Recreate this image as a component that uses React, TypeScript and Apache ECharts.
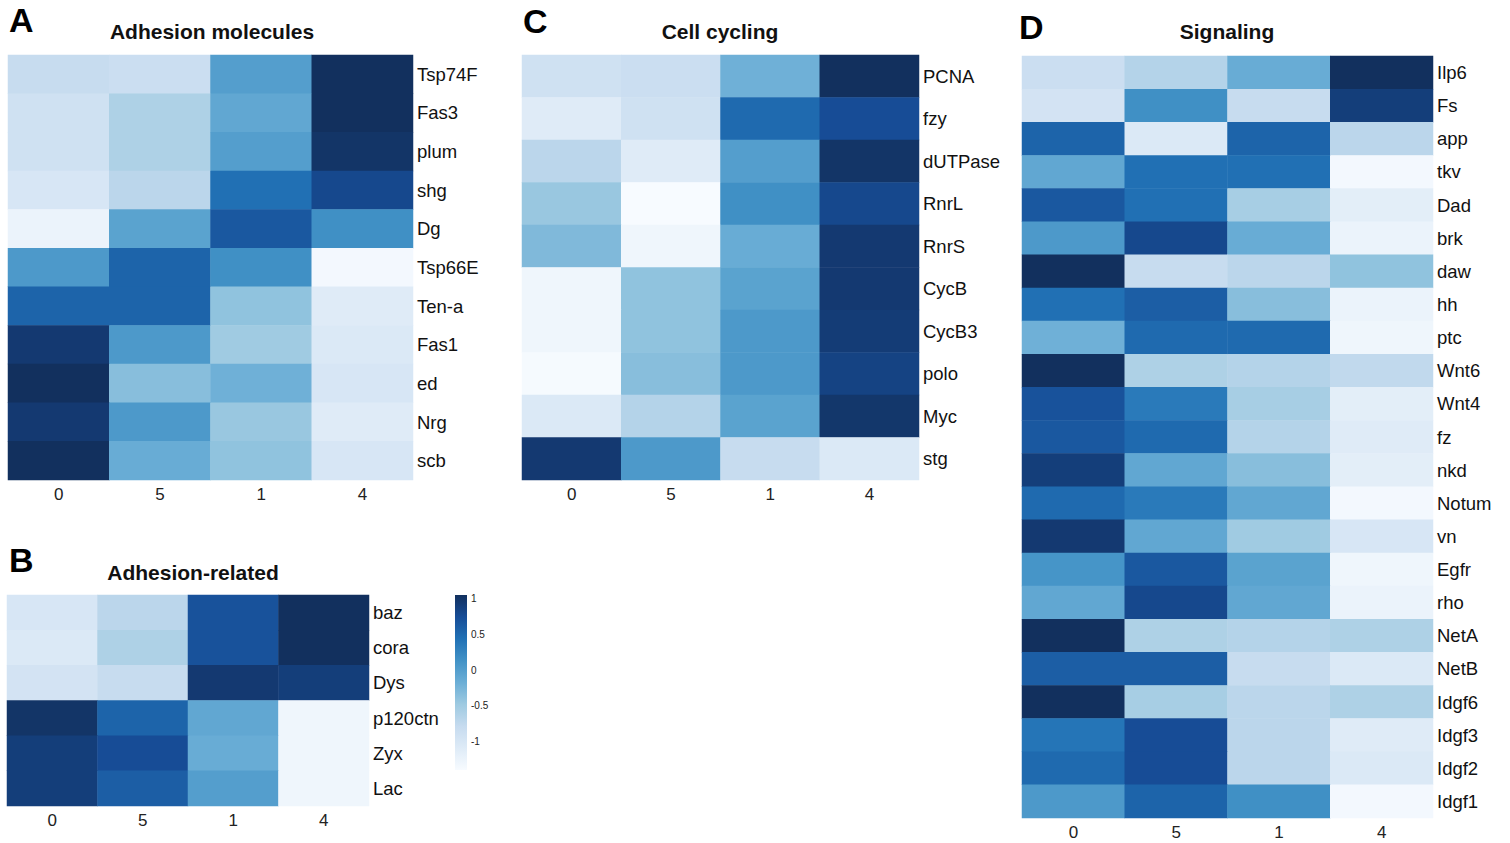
import React, { useEffect, useRef } from "react";
import * as echarts from "echarts";

// ---------- data ----------
const clusters = ["0", "5", "1", "4"];

const genesA = ["Tsp74F", "Fas3", "plum", "shg", "Dg", "Tsp66E", "Ten-a", "Fas1", "ed", "Nrg", "scb"];
const valuesA = [
  [-0.8, -0.85, 0.0, 1.05],
  [-0.9, -0.6, -0.1, 1.05],
  [-0.9, -0.6, 0.0, 1.0],
  [-1.0, -0.7, 0.45, 0.8],
  [-1.25, -0.05, 0.65, 0.15],
  [0.05, 0.55, 0.15, -1.35],
  [0.55, 0.55, -0.4, -1.1],
  [0.95, 0.05, -0.5, -1.05],
  [1.05, -0.35, -0.2, -1.0],
  [0.95, 0.05, -0.45, -1.1],
  [1.05, -0.15, -0.4, -1.0],
];

const genesB = ["baz", "cora", "Dys", "p120ctn", "Zyx", "Lac"];
const valuesB = [
  [-1.0, -0.7, 0.7, 1.05],
  [-1.05, -0.6, 0.7, 1.05],
  [-0.95, -0.8, 0.95, 0.9],
  [1.0, 0.55, -0.1, -1.3],
  [0.9, 0.75, -0.15, -1.3],
  [0.9, 0.6, 0.0, -1.3],
];

const genesC = ["PCNA", "fzy", "dUTPase", "RnrL", "RnrS", "CycB", "CycB3", "polo", "Myc", "stg"];
const valuesC = [
  [-0.9, -0.85, -0.2, 1.05],
  [-1.1, -0.9, 0.5, 0.75],
  [-0.7, -1.1, 0.0, 1.0],
  [-0.45, -1.4, 0.15, 0.8],
  [-0.3, -1.3, -0.15, 0.95],
  [-1.3, -0.4, -0.05, 0.95],
  [-1.3, -0.4, 0.05, 0.92],
  [-1.38, -0.35, 0.05, 0.85],
  [-1.05, -0.65, -0.05, 0.98],
  [0.95, 0.05, -0.8, -1.05],
];

const genesD = [
  "Ilp6", "Fs", "app", "tkv", "Dad", "brk", "daw", "hh", "ptc", "Wnt6", "Wnt4", "fz",
  "nkd", "Notum", "vn", "Egfr", "rho", "NetA", "NetB", "Idgf6", "Idgf3", "Idgf2", "Idgf1",
];
const valuesD = [
  [-0.85, -0.65, -0.15, 1.05],
  [-0.95, 0.15, -0.8, 0.9],
  [0.55, -1.05, 0.55, -0.7],
  [-0.1, 0.45, 0.45, -1.35],
  [0.65, 0.45, -0.55, -1.15],
  [0.05, 0.8, -0.15, -1.25],
  [1.05, -0.8, -0.7, -0.4],
  [0.45, 0.6, -0.35, -1.25],
  [-0.2, 0.5, 0.5, -1.3],
  [1.05, -0.6, -0.65, -0.75],
  [0.7, 0.35, -0.55, -1.15],
  [0.65, 0.5, -0.65, -1.1],
  [0.9, -0.1, -0.35, -1.15],
  [0.5, 0.35, -0.1, -1.35],
  [0.95, -0.1, -0.5, -1.0],
  [0.1, 0.65, -0.05, -1.3],
  [-0.1, 0.8, -0.1, -1.25],
  [1.05, -0.6, -0.65, -0.6],
  [0.6, 0.6, -0.8, -1.05],
  [1.05, -0.55, -0.7, -0.6],
  [0.4, 0.75, -0.7, -1.1],
  [0.5, 0.75, -0.7, -1.05],
  [0.05, 0.55, 0.15, -1.35],
];

const panelLetters = ["A", "B", "C", "D"];
const panelTitles = ["Adhesion molecules", "Adhesion-related", "Cell cycling", "Signaling"];
const legendTicks = [1, 0.5, 0, -0.5, -1];
const scaleMin = -1.4;
const scaleMax = 1.05;
const blues = ["#f7fbff", "#deebf7", "#c6dbef", "#9ecae1", "#6baed6", "#4292c6", "#2171b5", "#174d97", "#12305e"];

// ---------- layout ----------
const FONT = "'Liberation Sans', Arial, Helvetica, sans-serif";
const grids = [
  { left: 8, top: 55, width: 405, height: 425 },
  { left: 7, top: 595, width: 362, height: 211 },
  { left: 522, top: 55, width: 397, height: 425 },
  { left: 1022, top: 56, width: 411, height: 762 },
];
const titlePos = [
  { x: 212, y: 31 },
  { x: 193, y: 572 },
  { x: 720, y: 31 },
  { x: 1227, y: 31 },
];
const letterPos = [
  { x: 9, y: 20 },
  { x: 9, y: 560 },
  { x: 523, y: 21 },
  { x: 1019, y: 27 },
];
const bar = { x: 455, y: 595, w: 12, h: 175 };

const toData = (vals: number[][]) => vals.flatMap((row, r) => row.map((v, c) => [c, r, v]));

export default function App() {
  const ref = useRef<HTMLDivElement>(null);

  useEffect(() => {
    if (!ref.current) return;
    const chart = echarts.init(ref.current, undefined, { renderer: "svg" });
    const geneSets = [genesA, genesB, genesC, genesD];
    const valueSets = [valuesA, valuesB, valuesC, valuesD];

    const graphic: any[] = [];
    panelLetters.forEach((l, i) => {
      graphic.push({
        type: "text",
        x: letterPos[i].x,
        y: letterPos[i].y,
        style: { text: l, font: `bold 34px ${FONT}`, fill: "#000", textVerticalAlign: "middle", verticalAlign: "middle" },
      });
      graphic.push({
        type: "text",
        x: titlePos[i].x,
        y: titlePos[i].y,
        style: {
          text: panelTitles[i],
          font: `bold 21px ${FONT}`,
          fill: "#111",
          textAlign: "center",
          textVerticalAlign: "middle",
          verticalAlign: "middle",
        },
      });
    });
    graphic.push({
      type: "rect",
      shape: { x: bar.x, y: bar.y, width: bar.w, height: bar.h },
      style: {
        fill: {
          type: "linear",
          x: 0,
          y: 0,
          x2: 0,
          y2: 1,
          colorStops: blues
            .slice()
            .reverse()
            .map((c, i) => ({ offset: i / (blues.length - 1), color: c })),
        },
      },
    });
    legendTicks.forEach((t) => {
      graphic.push({
        type: "text",
        x: bar.x + bar.w + 4,
        y: bar.y + ((scaleMax - t) / (scaleMax - scaleMin)) * bar.h,
        style: { text: String(t), font: `10px ${FONT}`, fill: "#222", textVerticalAlign: "middle", verticalAlign: "middle" },
      });
    });

    chart.setOption({
      animation: false,
      backgroundColor: "#fff",
      grid: grids.map((g) => ({ ...g, containLabel: false })),
      xAxis: grids.map((_, i) => ({
        type: "category",
        gridIndex: i,
        data: clusters,
        position: "bottom",
        axisLine: { show: false },
        axisTick: { show: false },
        splitArea: { show: false },
        axisLabel: { fontSize: 17, color: "#222", margin: 6, fontFamily: FONT },
      })),
      yAxis: grids.map((_, i) => ({
        type: "category",
        gridIndex: i,
        data: geneSets[i],
        inverse: true,
        position: "right",
        axisLine: { show: false },
        axisTick: { show: false },
        splitArea: { show: false },
        axisLabel: { fontSize: 18.5, color: "#111", margin: 4, fontFamily: FONT },
      })),
      visualMap: {
        type: "continuous",
        show: false,
        min: scaleMin,
        max: scaleMax,
        seriesIndex: [0, 1, 2, 3],
        inRange: { color: blues },
      },
      series: valueSets.map((vals, i) => ({
        type: "heatmap",
        xAxisIndex: i,
        yAxisIndex: i,
        data: toData(vals),
        itemStyle: { borderWidth: 0 },
        emphasis: { disabled: true },
      })),
      graphic,
    });
    return () => chart.dispose();
  }, []);

  return (
    <div
      ref={ref}
      style={{ position: "absolute", left: 0, top: 0, width: 1510, height: 843, background: "#fff" }}
    />
  );
}
